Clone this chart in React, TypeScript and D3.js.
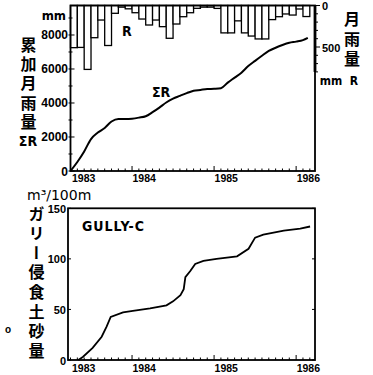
import React, { useEffect, useRef } from "react";
import * as d3 from "d3";

// monthly rainfall (mm), April 1983 .. February 1986
const monthlyRain = [
  508, 505, 770, 388, 175, 482, 94, 20, 40, 87, 163, 235, 175, 255, 395, 223,
  135, 87, 34, 20, 20, 35, 330, 330, 185, 330, 368, 403, 403, 170, 135, 102,
  115, 42, 133,
];
// cumulative rainfall (mm) at month boundaries
const cumRain = [
  0, 530, 1150, 1880, 2260, 2530, 2910, 3060, 3060, 3080, 3140, 3220, 3460,
  3730, 4030, 4260, 4420, 4580, 4720, 4770, 4820, 4835, 4870, 5200, 5490, 5780,
  6170, 6480, 6780, 7060, 7250, 7410, 7540, 7610, 7700, 7830,
];
// gully C erosion (m3/100m) at survey dates
const gullyT = [
  1983.345, 1983.4, 1983.52, 1983.63, 1983.69, 1983.74, 1983.89, 1984.01,
  1984.22, 1984.42, 1984.5, 1984.59, 1984.63, 1984.65, 1984.71, 1984.77,
  1984.87, 1985.03, 1985.28, 1985.42, 1985.5, 1985.6, 1985.85, 1986.05, 1986.17,
];
const gullyV = [
  0, 3, 12, 23, 33, 42.5, 47, 48.5, 51, 54, 58, 64, 70, 82, 88, 95, 98, 100,
  102.5, 110, 121, 124, 128, 130, 132,
];
const years = [1983, 1984, 1985, 1986];
const rainTicks = [0, 2000, 4000, 6000, 8000];
const barTicks = [0, 500];
const gullyTicks = [0, 50, 100, 150];

const startT = 1983.25; // April 1983
const numFont = "'Liberation Sans', Arial, sans-serif";
const narrowFont = "'Liberation Sans Narrow', 'DejaVu Sans Condensed', 'Liberation Sans', sans-serif";
const cjkFont = "'Noto Sans CJK JP', sans-serif";

export default function App() {
  const ref = useRef<SVGSVGElement>(null);

  useEffect(() => {
    const svg = d3.select(ref.current);
    svg.selectAll("*").remove();

    const x = d3.scaleLinear().domain([startT, 1986.23]).range([70.5, 315]);
    const yTop = d3.scaleLinear().domain([0, 9735]).range([171, 5.5]);
    const yBar = d3.scaleLinear().domain([0, 500]).range([5.5, 47]);
    const yBot = d3.scaleLinear().domain([0, 150]).range([360, 208.3]);
    const monthT = (i: number) => startT + i / 12;

    // ---------- top chart ----------
    const top = svg.append("g");

    top
      .selectAll("rect.bar")
      .data(monthlyRain)
      .enter()
      .append("rect")
      .attr("x", (_d, i) => x(monthT(i)))
      .attr("y", yBar(0))
      .attr("width", (_d, i) => x(monthT(i + 1)) - x(monthT(i)))
      .attr("height", (d) => yBar(d) - yBar(0))
      .attr("fill", "#fff")
      .attr("stroke", "#000")
      .attr("stroke-width", 1.3);

    top
      .append("rect")
      .attr("x", x(startT))
      .attr("y", yTop.range()[1])
      .attr("width", 315 - x(startT))
      .attr("height", yTop(0) - yTop.range()[1])
      .attr("fill", "none")
      .attr("stroke", "#000")
      .attr("stroke-width", 1.8);

    // right axis of bars, thick part
    top
      .append("line")
      .attr("x1", 315)
      .attr("x2", 315)
      .attr("y1", yBar(0))
      .attr("y2", yBar(800))
      .attr("stroke", "#000")
      .attr("stroke-width", 2.8);
    top
      .selectAll("line.rt")
      .data(d3.range(0, 801, 100))
      .enter()
      .append("line")
      .attr("x1", 315)
      .attr("x2", (d) => (d % 500 === 0 ? 320 : 318))
      .attr("y1", (d) => yBar(d))
      .attr("y2", (d) => yBar(d))
      .attr("stroke", "#000")
      .attr("stroke-width", 1);

    // left ticks
    top
      .selectAll("line.lt")
      .data(d3.range(0, 9001, 1000))
      .enter()
      .append("line")
      .attr("x1", x(startT) - 2)
      .attr("x2", (d) => x(startT) + (d % 2000 === 0 ? 4 : 2))
      .attr("y1", (d) => yTop(d))
      .attr("y2", (d) => yTop(d))
      .attr("stroke", "#000")
      .attr("stroke-width", 1);

    // monthly ticks, taller at January
    const monthTicks = d3.range(0, 36);
    const drawMonthTicks = (g: any, y0: number) => {
      g.selectAll("line.mt")
        .data(monthTicks)
        .enter()
        .append("line")
        .attr("x1", (i: number) => x(monthT(i)))
        .attr("x2", (i: number) => x(monthT(i)))
        .attr("y1", y0)
        .attr("y2", (i: number) => y0 - ((i - 9) % 12 === 0 ? 5 : 2.5))
        .attr("stroke", "#000")
        .attr("stroke-width", 1);
    };
    drawMonthTicks(top, yTop(0));

    top
      .append("path")
      .datum(cumRain)
      .attr("fill", "none")
      .attr("stroke", "#000")
      .attr("stroke-width", 2)
      .attr(
        "d",
        d3
          .line<number>()
          .x((_d, i) => x(monthT(i)) - (i === cumRain.length - 1 ? 2 : 0))
          .y((d) => yTop(d))
          .curve(d3.curveMonotoneX)
      );

    top
      .selectAll("text.ly")
      .data(rainTicks)
      .enter()
      .append("text")
      .attr("x", 68)
      .attr("y", (d) => yTop(d) + 4.5)
      .attr("text-anchor", "end")
      .style("font", `bold 12px ${numFont}`)
      .text((d) => d);

    top
      .selectAll("text.ry")
      .data(barTicks)
      .enter()
      .append("text")
      .attr("x", 322)
      .attr("y", (d) => yBar(d) + 4.5)
      .style("font", `bold 11px ${numFont}`)
      .text((d) => d);

    const yearLabels = (g: any, base: number) => {
      g.selectAll("text.yr")
        .data(years)
        .enter()
        .append("text")
        .attr("x", (d: number) => (d === 1983 ? x(startT) + 1.5 : x(d) + 0.5))
        .attr("y", base)
        .style("font", `bold 10.5px ${numFont}`)
        .text((d: number) => d);
    };
    yearLabels(top, 182);

    const label = (
      g: any,
      t: string,
      px: number,
      py: number,
      font: string,
      anchor = "start"
    ) =>
      g
        .append("text")
        .attr("x", px)
        .attr("y", py)
        .attr("text-anchor", anchor)
        .style("font", font)
        .text(t);

    label(top, "mm", 66, 20, `bold 13px ${narrowFont}`, "end");
    label(top, "R", 122, 36, `bold 14px ${narrowFont}`);
    label(top, "ΣR", 152, 97, `bold 14px ${narrowFont}`);

    // vertical Japanese titles: one text each, written top to bottom
    const vertical = (g: any, t: string, cx: number, y0: number, size: number, gap: number) =>
      g
        .append("text")
        .attr("x", cx)
        .attr("y", y0)
        .style("writing-mode", "vertical-rl")
        .style("letter-spacing", `${gap}px`)
        .style("font", `bold ${size}px ${cjkFont}`)
        .text(t);

    vertical(top, "累加月雨量", 28.5, 37, 16, 3.2);
    label(top, "ΣR", 28, 146, `bold 14px ${narrowFont}`, "middle");
    vertical(top, "月雨量", 352, 10.5, 16, 4.2);
    label(top, "mm", 331, 85, `bold 12px ${narrowFont}`, "middle");
    label(top, "R", 354, 85, `bold 12px ${narrowFont}`, "middle");

    // ---------- bottom chart ----------
    const bot = svg.append("g");
    bot
      .append("rect")
      .attr("x", 68)
      .attr("y", yBot(150))
      .attr("width", 315 - 68)
      .attr("height", yBot(0) - yBot(150))
      .attr("fill", "none")
      .attr("stroke", "#000")
      .attr("stroke-width", 1.8);

    bot
      .selectAll("g.bt")
      .data(gullyTicks)
      .enter()
      .append("g")
      .each(function (d) {
        const g = d3.select(this);
        g.append("line")
          .attr("x1", 68)
          .attr("x2", 71)
          .attr("y1", yBot(d))
          .attr("y2", yBot(d))
          .attr("stroke", "#000");
        g.append("line")
          .attr("x1", 312)
          .attr("x2", 315)
          .attr("y1", yBot(d))
          .attr("y2", yBot(d))
          .attr("stroke", "#000");
      });

    drawMonthTicks(bot, yBot(0));

    bot
      .append("path")
      .datum(gullyT.map((t, i) => [t, gullyV[i]] as [number, number]))
      .attr("fill", "none")
      .attr("stroke", "#000")
      .attr("stroke-width", 1.8)
      .attr(
        "d",
        d3
          .line<[number, number]>()
          .x((d) => x(d[0]))
          .y((d) => yBot(d[1]))
      );

    bot
      .selectAll("text.gy")
      .data(gullyTicks)
      .enter()
      .append("text")
      .attr("x", 66)
      .attr("y", (d) => yBot(d) + 4.5)
      .attr("text-anchor", "end")
      .style("font", `bold 11px ${numFont}`)
      .text((d) => d);

    yearLabels(bot, 372);

    label(bot, "GULLY-C", 82, 230.5, `bold 14px ${narrowFont}`).style("letter-spacing", "1px");
    label(bot, "m³/100m", 27, 200, `14px 'DejaVu Sans', sans-serif`);
    vertical(bot, "ガリー侵食土砂量", 36.5, 205.5, 16, 3.6);
    label(bot, "o", 8, 333, `bold 10px ${numFont}`, "middle");
  }, []);

  return (
    <svg
      ref={ref}
      width={373}
      height={375}
      style={{ position: "absolute", left: 0, top: 0, background: "#fff" }}
    />
  );
}
